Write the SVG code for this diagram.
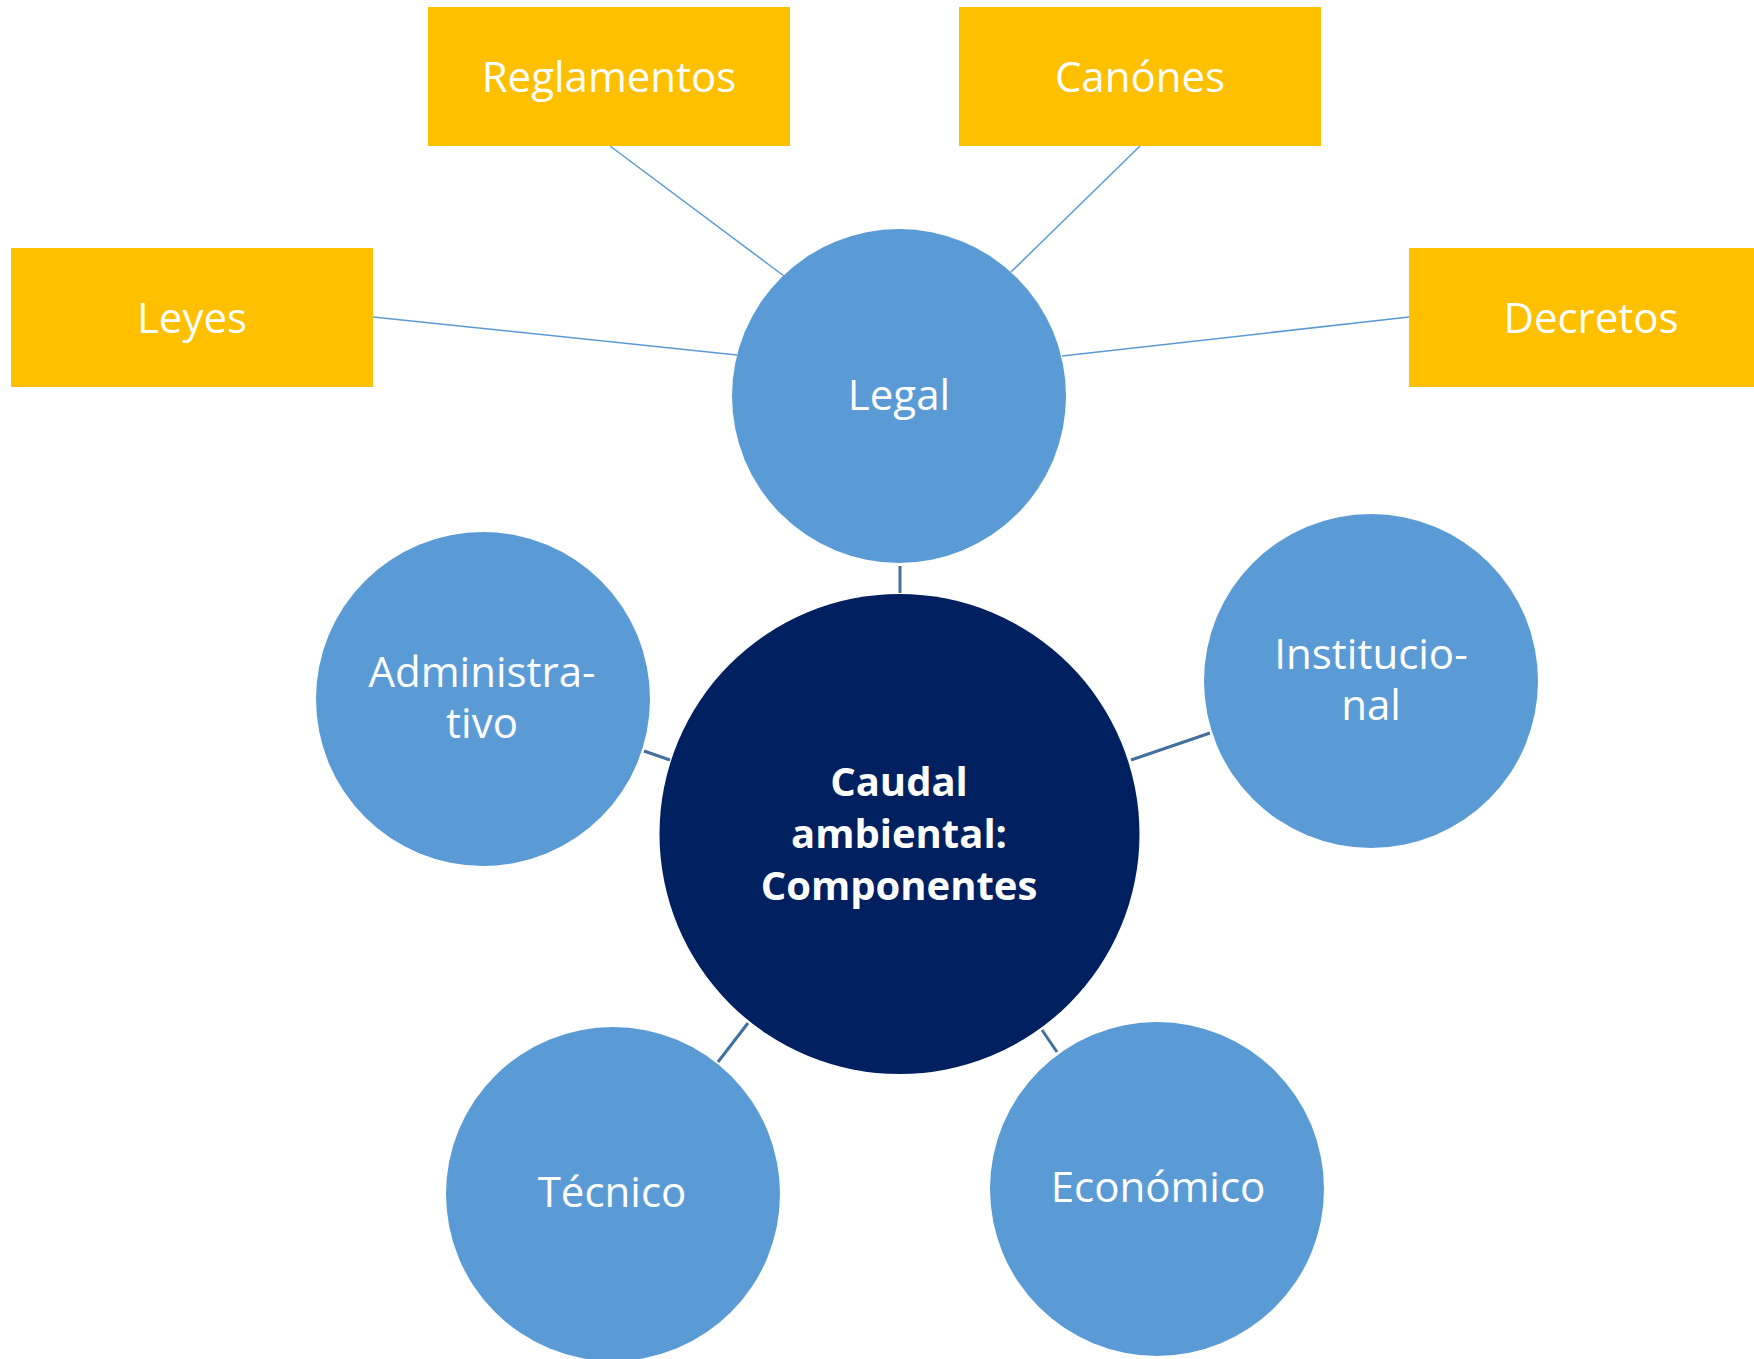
<svg xmlns="http://www.w3.org/2000/svg" width="1754" height="1359" viewBox="0 0 1754 1359">
<style>
.box{fill:#FFC000}
.sub{fill:#5B9BD5}
.core{fill:#002060}
.t{font-family:"Open Sans","Noto Sans",sans-serif;font-size:42px;fill:#FFFFFF;text-anchor:middle}
.b{font-weight:bold;font-size:40px}
.thin{stroke:#5B9BD5;stroke-width:1.5;fill:none}
.thick{stroke:#41719C;stroke-width:3;fill:none}
</style>
<rect width="1754" height="1359" fill="#FFFFFF"/>
<g id="connectors">
<line class="thin" x1="373" y1="317" x2="737" y2="355"/>
<line class="thin" x1="610" y1="146" x2="784" y2="276"/>
<line class="thin" x1="1140" y1="146" x2="1011" y2="272"/>
<line class="thin" x1="1409" y1="317" x2="1062" y2="356"/>
<line class="thick" x1="900" y1="566" x2="900" y2="593"/>
<line class="thick" x1="644" y1="751" x2="670" y2="760"/>
<line class="thick" x1="1131" y1="760" x2="1210" y2="733"/>
<line class="thick" x1="748" y1="1023" x2="718" y2="1062"/>
<line class="thick" x1="1042" y1="1030" x2="1057" y2="1052"/>
</g>
<g id="reglamentos"><rect class="box" x="428" y="7" width="362" height="139"/><text class="t" x="609" y="92">Reglamentos</text></g>
<g id="canones"><rect class="box" x="959" y="7" width="362" height="139"/><text class="t" x="1140" y="92">Canónes</text></g>
<g id="leyes"><rect class="box" x="11" y="248" width="362" height="139"/><text class="t" x="192" y="333">Leyes</text></g>
<g id="decretos"><rect class="box" x="1409" y="248" width="345" height="139"/><text class="t" x="1591" y="333">Decretos</text></g>
<g id="legal"><circle class="sub" cx="899" cy="396" r="167"/><text class="t" x="899" y="410">Legal</text></g>
<g id="administrativo"><circle class="sub" cx="483" cy="699" r="167"/><text class="t" x="482" y="687">Administra-</text><text class="t" x="482" y="738">tivo</text></g>
<g id="institucional"><circle class="sub" cx="1371" cy="681" r="167"/><text class="t" x="1371" y="669">Institucio-</text><text class="t" x="1371" y="720">nal</text></g>
<g id="tecnico"><circle class="sub" cx="613" cy="1194" r="167"/><text class="t" x="612" y="1207">Técnico</text></g>
<g id="economico"><circle class="sub" cx="1157" cy="1189" r="167"/><text class="t" x="1158" y="1202">Económico</text></g>
<g id="central"><circle class="core" cx="899.5" cy="834" r="240"/><text class="t b" x="899" y="796">Caudal</text><text class="t b" x="899" y="848">ambiental:</text><text class="t b" x="899" y="900">Componentes</text></g>
</svg>
